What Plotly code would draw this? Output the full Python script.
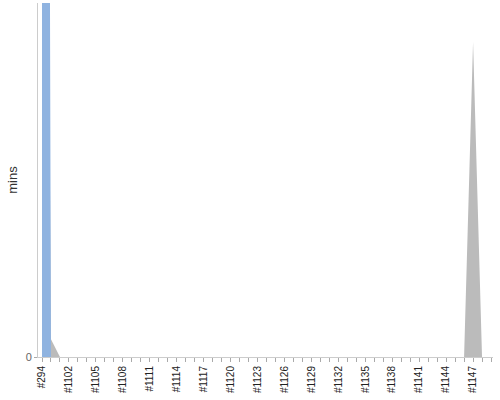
import plotly.graph_objects as go

# categories along the x axis (one per build)
categories = [
    "#294", "#1100", "#1101", "#1102", "#1103", "#1104", "#1105", "#1106",
    "#1107", "#1108", "#1109", "#1110", "#1111", "#1112", "#1113", "#1114",
    "#1115", "#1116", "#1117", "#1118", "#1119", "#1120", "#1121", "#1122",
    "#1123", "#1124", "#1125", "#1126", "#1127", "#1128", "#1129", "#1130",
    "#1131", "#1132", "#1133", "#1134", "#1135", "#1136", "#1137", "#1138",
    "#1139", "#1140", "#1141", "#1142", "#1143", "#1144", "#1145", "#1146",
    "#1147", "#1148", "#1149",
]

# minutes per build (blue runs far off the top of the axis)
blue_mins = [
    900, 0, 0, 0, 0, 0, 0, 0, 0, 0, 0, 0, 0, 0, 0, 0, 0,
    0, 0, 0, 0, 0, 0, 0, 0, 0, 0, 0, 0, 0, 0, 0, 0, 0,
    0, 0, 0, 0, 0, 0, 0, 0, 0, 0, 0, 0, 0, 0, 0, 0, 0,
]
gray_mins = [
    400, 5, 0, 0, 0, 0, 0, 0, 0, 0, 0, 0, 0, 0, 0, 0, 0,
    0, 0, 0, 0, 0, 0, 0, 0, 0, 0, 0, 0, 0, 0, 0, 0, 0,
    0, 0, 0, 0, 0, 0, 0, 0, 0, 0, 0, 0, 0, 0, 89, 0, 0,
]

y_max = 100

x = list(range(len(categories)))
# only every third build gets a label
label_idx = x[::3]
label_txt = [categories[i] for i in label_idx]

fig = go.Figure()
fig.add_trace(go.Scatter(x=x, y=gray_mins, mode='none', fill='tozeroy',
                         fillcolor='#bbbbbb', showlegend=False, hoverinfo='skip'))
fig.add_trace(go.Scatter(x=x, y=blue_mins, mode='none', fill='tozeroy',
                         fillcolor='#8fb3e0', showlegend=False, hoverinfo='skip'))

fig.update_layout(
    width=500, height=400,
    margin=dict(l=38, r=7, t=3, b=43, autoexpand=False),
    paper_bgcolor='white', plot_bgcolor='white',
    font=dict(family='Liberation Sans, Arial, sans-serif', size=10, color='#222'),
    showlegend=False,
)
fig.update_xaxes(
    range=[-0.445, 50.22], automargin=False,
    tickvals=label_idx, ticktext=label_txt, tickangle=-90,
    ticks='outside', ticklen=4, tickcolor='#aaaaaa',
    minor=dict(dtick=1, ticks='outside', ticklen=4, tickcolor='#aaaaaa'),
    showline=True, linecolor='#cccccc', linewidth=1,
    showgrid=False, zeroline=False,
    tickfont=dict(size=10, color='#222'),
)
fig.update_yaxes(
    range=[0, y_max], automargin=False,
    tickvals=[0], ticktext=['0'],
    ticks='outside', ticklen=3, tickcolor='#aaaaaa',
    showline=True, linecolor='#cccccc', linewidth=1,
    showgrid=False, zeroline=False,
    tickfont=dict(size=11, color='#666'),
    title=dict(text='mins', font=dict(size=13, color='#333'), standoff=5),
)

# the page's default body margin would push the chart 8px down and right
fig.write_html("out.html", config={'displayModeBar': False},
               post_script="document.body.style.margin='0';")
